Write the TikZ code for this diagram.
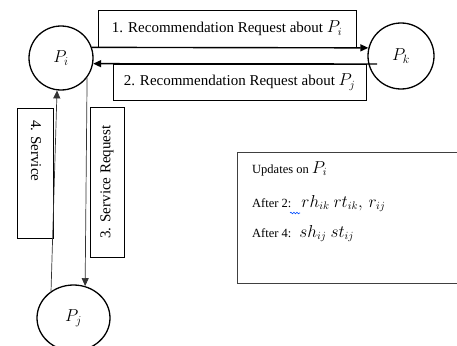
\documentclass[tikz,border=0pt]{standalone}
\usepackage{fontspec}
\setmainfont{Liberation Serif}
\usetikzlibrary{shapes.geometric,arrows.meta,decorations.pathmorphing}
\newcommand{\updmath}[1]{{\fontsize{16}{18}\selectfont$#1$}}
\begin{document}
\begin{tikzpicture}[x=1pt,y=-1pt,
  peer/.style={draw,line width=1.3pt,circle,inner sep=0pt,font=\fontsize{18}{20}\selectfont},
  lbl/.style={draw,line width=0.8pt,inner sep=0pt,font=\fontsize{15}{18}\selectfont},
  txt/.style={inner sep=0pt,font=\fontsize{15}{18}\selectfont},
  upd/.style={inner sep=0pt,anchor=base west,font=\fontsize{12.5}{15}\selectfont},
  msg/.style={line width=1.4pt,-{Triangle[length=8pt,width=7pt]}},
  srv/.style={line width=0.7pt,draw=black!80,-{Triangle[length=8pt,width=7pt]}}
]
\useasboundingbox (0,0) rectangle (457,345);

% peers
\node[peer,minimum size=64pt] (pi) at (61,58) {$P_i$};
\node[peer,minimum size=66pt] (pk) at (401,56) {$P_k$};
\node[peer,ellipse,minimum width=73pt,minimum height=66pt] (pj) at (73.5,318) {$P_j$};

% label boxes
\node[lbl,minimum width=258pt,minimum height=37pt] (b1) at (227,28.5) {1. Recommendation Request about \updmath{P_i}};
\node[lbl,minimum width=253pt,minimum height=36pt] (b2) at (239.5,82) {2. Recommendation Request about \updmath{P_j}};
\node[lbl,rotate=90,minimum width=150pt,minimum height=34pt] (b3) at (107,182) {3. Service Request};
\node[lbl,minimum width=36pt,minimum height=130pt] (b4) at (35,173) {};
\node[txt,rotate=-90,anchor=west] (t4) at (36,120) {4. Service};

% connectors
\coordinate (pkin) at (377,64);
\draw[msg] (pi.19) -- (pk.166);
\draw[msg] (pkin) -- (pi.-10);
\draw[srv] (pi.-37) -- (pj.70);
\draw[srv] (pj.130) -- (pi.-97);

% updates box
\node[draw=black!75,line width=1pt,minimum width=225pt,minimum height=131pt,inner sep=0pt] (ub) at (349.5,217.5) {};
\node[upd] (u1) at (252,173) {Updates on \updmath{P_i}};
\node[upd] (u2) at (252,207) {After 2:\hspace{10pt}\updmath{rh_{ik}\ rt_{ik},\,r_{ij}}};
\node[upd] (u3) at (252,237) {After 4:\hspace{8pt}\updmath{sh_{ij}\ st_{ij}}};
\coordinate (sq1) at (290,213);
\coordinate (sq2) at (300,213);
\draw[blue!70!cyan,line width=0.6pt,decorate,decoration={snake,amplitude=0.8pt,segment length=3pt}] (sq1) -- (sq2);
\end{tikzpicture}
\end{document}
